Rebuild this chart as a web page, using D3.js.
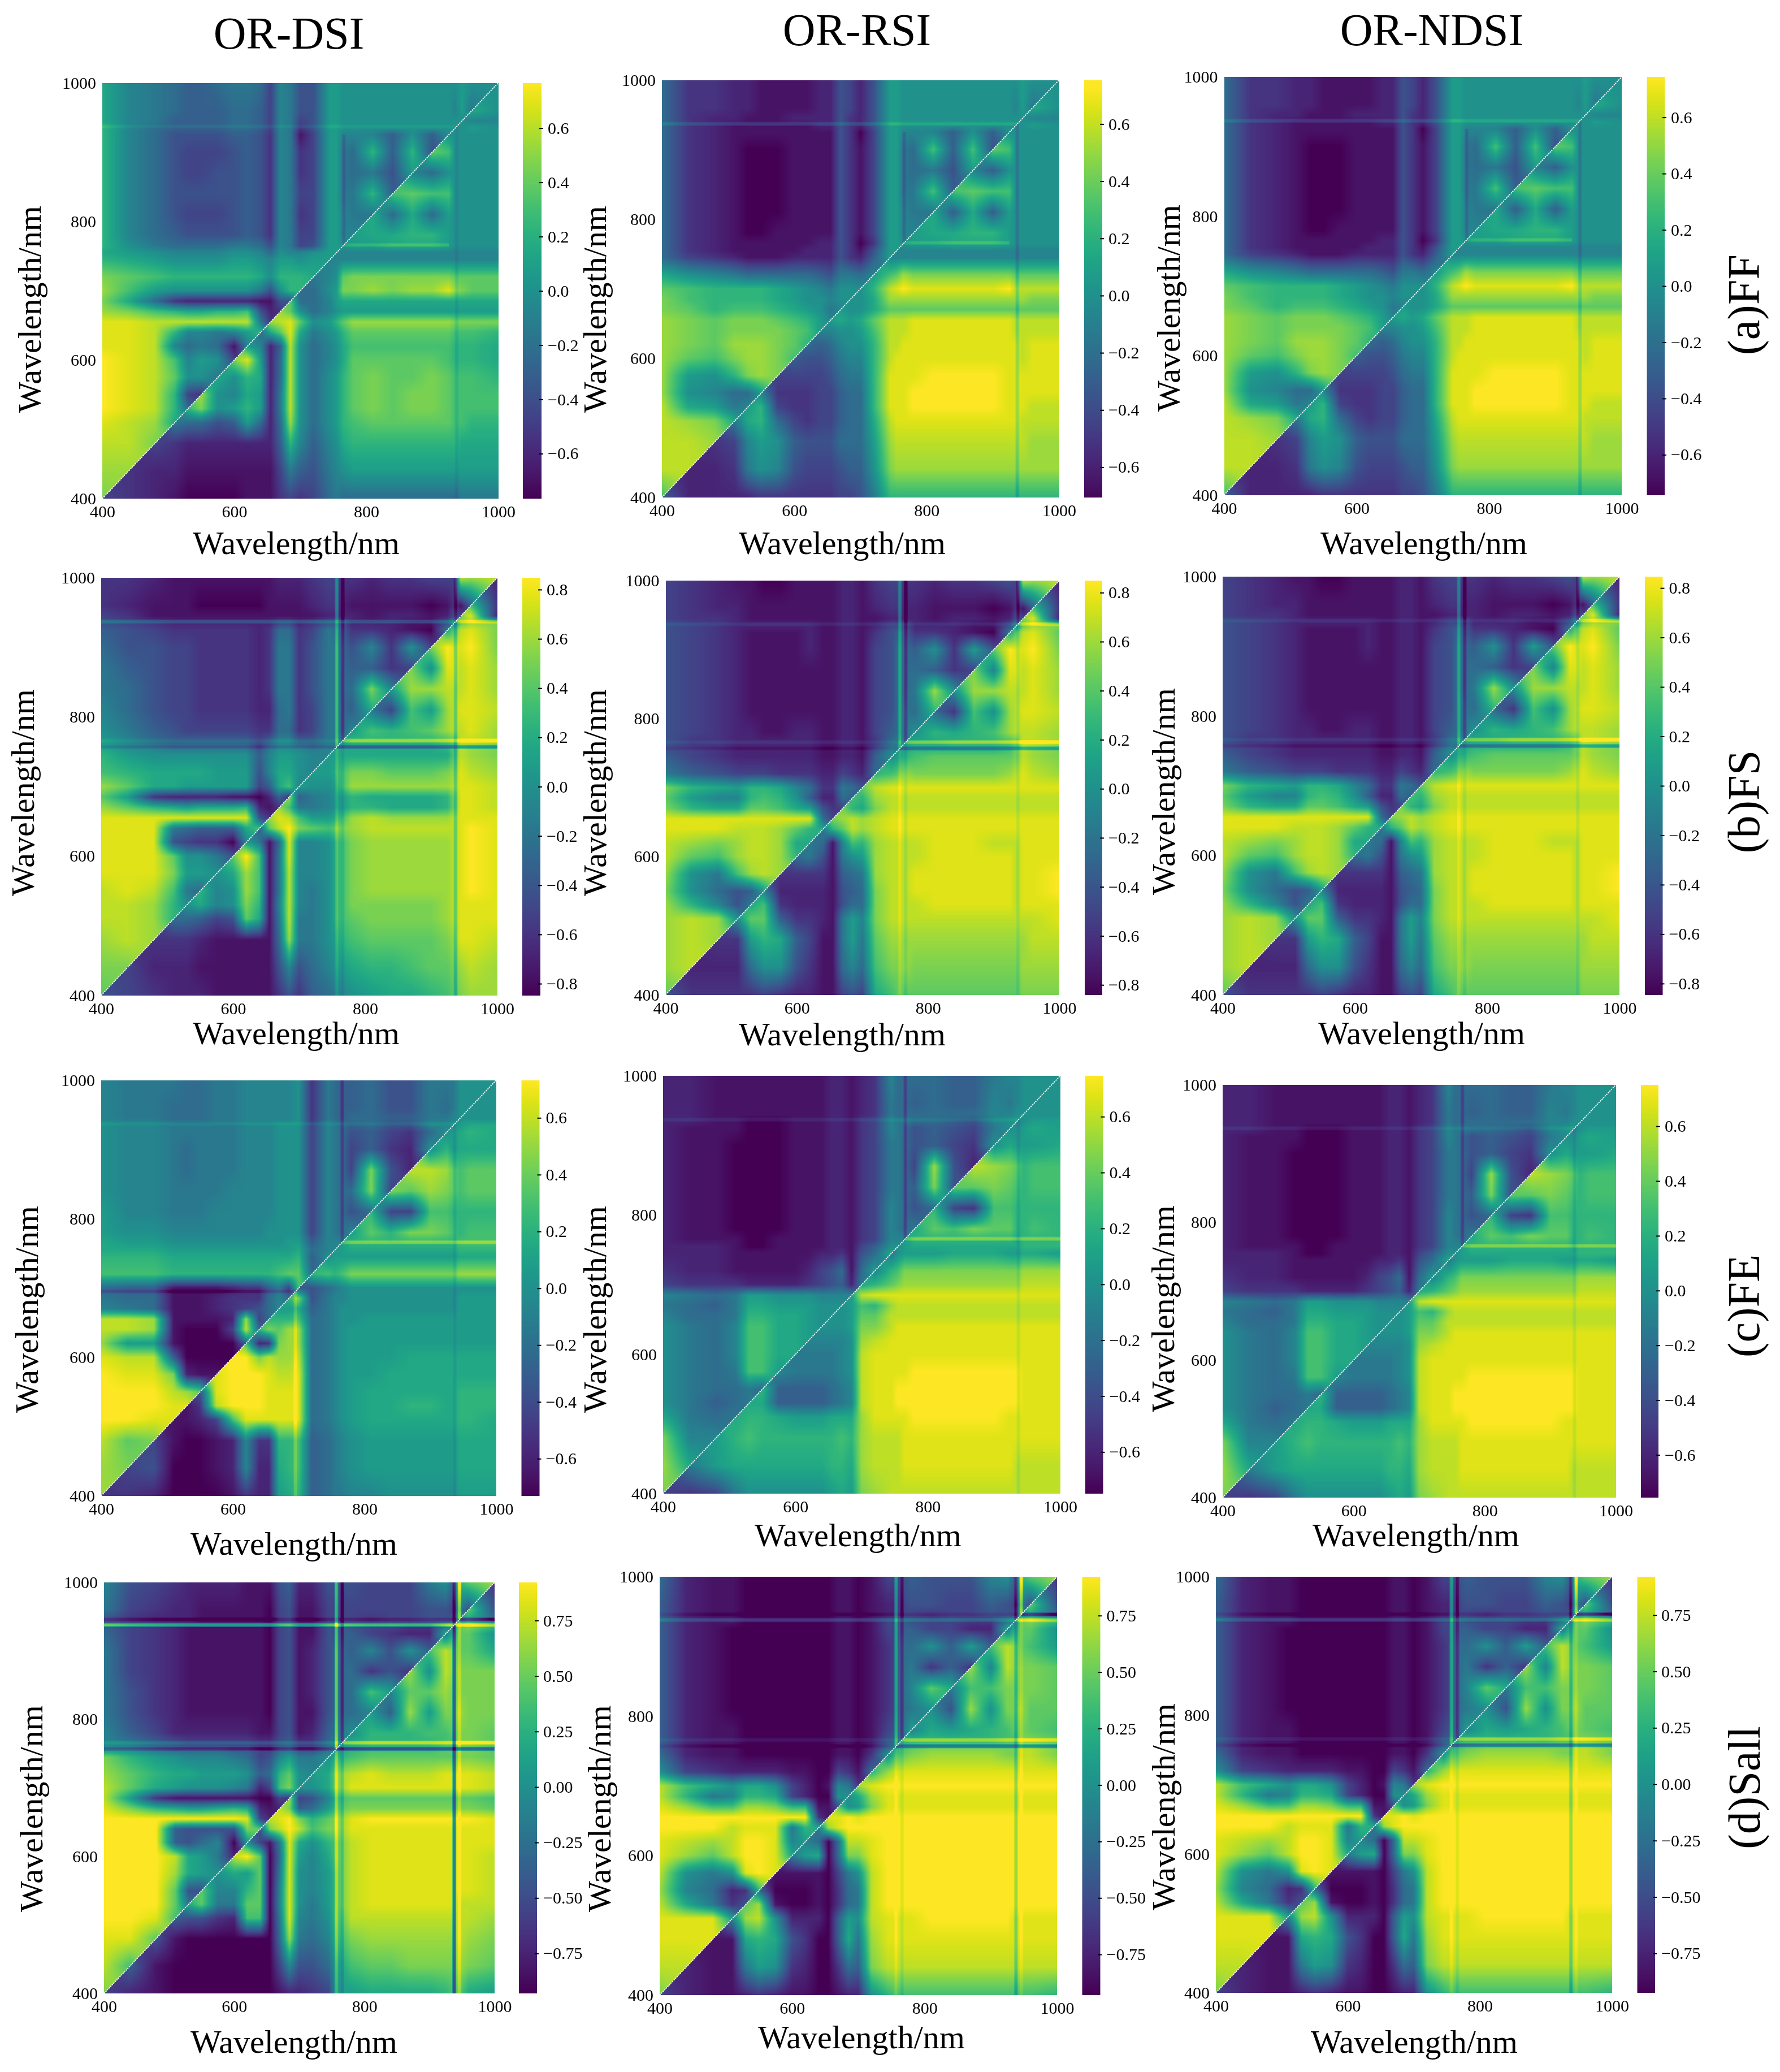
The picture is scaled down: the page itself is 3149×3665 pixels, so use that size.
<!DOCTYPE html>
<html><head><meta charset="utf-8">
<script src="https://cdn.jsdelivr.net/npm/d3@7/dist/d3.min.js"></script>
<style>
html,body{margin:0;padding:0;background:#fff}
#wrap{position:relative;width:3149px;height:3665px;overflow:hidden}
canvas,svg{position:absolute;left:0;top:0}
text{font-family:"Liberation Serif","Times New Roman",serif;fill:#000}
</style></head><body><div id="wrap"><canvas id="c" width="3149" height="3665"></canvas><svg id="s" width="3149" height="3665"></svg></div>
<script>
const waves=[400,440,480,510,530,550,575,600,620,640,655,670,685,700,720,745,755,765,780,810,840,870,900,925,935,945,960,1000];
const axisTicks=[400,600,800,1000];
const rowNames=["(a)FF","(b)FS","(c)FE","(d)Sall"];
const colNames=["OR-DSI","OR-RSI","OR-NDSI"];
const ticksFFE=[-0.6,-0.4,-0.2,0,0.2,0.4,0.6];
const ticksFS=[-0.8,-0.6,-0.4,-0.2,0,0.2,0.4,0.6,0.8];
const ticksSall=[-0.75,-0.5,-0.25,0,0.25,0.5,0.75];
// Triangles: each row is a y node, entries run x = y .. 1000, in tenths of the colour-bar half range.
const ffDsi=[
[-6,-7,-8,-9,-10,-10,-10,-10,-9,-9,-9,-7,-6,-7,-6,-3,-2,-3,-3,-3,-3,-3,-3,-3,-3,-2,-2,-2],
[-7,-8,-8,-9,-9,-9,-9,-9,-9,-9,-6,-2,-4,-5,-2,-1,0,1,1,1,1,1,1,1,1,1,1],
[-6,-7,-8,-8,-8,-8,-8,-8,-8,-4,3,-1,-4,-1,0,2,3,3,3,3,3,3,3,2,2,2],
[-2,-3,-3,-5,-4,1,-3,-8,-3,7,0,-3,0,1,3,4,5,5,5,5,5,4,4,3,3],
[3,6,0,1,3,1,-8,-2,8,0,-3,0,1,3,5,6,5,6,6,5,4,4,4,4],
[7,0,-1,2,1,-8,-2,8,0,-3,0,1,3,5,6,5,6,6,5,4,4,4,4],
[2,0,3,2,-8,-3,8,0,-3,0,1,3,5,6,5,5,6,5,4,4,4,3],
[6,9,1,-8,-3,8,0,-3,-1,0,2,5,5,5,5,5,4,3,3,3,2],
[1,-1,-8,-4,8,0,-3,-1,0,2,4,4,4,4,4,4,3,3,3,2],
[-3,2,5,9,2,-2,0,1,3,5,5,5,5,5,5,4,4,4,3],
[7,8,9,5,0,1,3,5,7,7,7,7,7,7,6,6,6,6],
[7,5,0,-3,-1,0,1,1,1,1,1,1,1,1,1,1,1],
[5,-3,-3,-1,1,2,2,2,2,2,2,2,2,2,2,2],
[-3,-3,0,1,6,6,7,6,7,7,9,7,6,5,5],
[-2,-1,0,5,6,6,6,6,6,6,5,5,5,5],
[-1,-1,-1,-1,-1,-1,-1,-1,-1,-1,-1,-1,-1],
[-1,-1,-1,-1,-1,-1,-1,-1,-1,-1,-1,-1],
[0,1,1,2,2,2,1,0,0,0,0],
[1,2,2,3,3,1,0,0,0,0],
[2,-3,2,-3,1,0,0,0,0],
[4,5,4,4,0,0,0,0],
[-1,-3,0,0,0,0,0],
[5,4,0,0,0,0],
[0,0,0,0,0],
[0,0,1,0],
[0,-1,-1],
[2,0],
[0]];
const ffRsi=[
[-4,-8,-8,-8,-8,-7,-7,-7,-7,-7,-7,-6,-6,-5,-2,3,3,3,3,3,3,3,3,3,3,3,3,3],
[-8,-8,-7,-2,0,-1,-5,-6,-6,-6,-5,-4,-4,0,6,7,7,7,7,7,7,7,7,7,7,7,7],
[-7,-6,-1,1,0,-4,-5,-5,-5,-3,-3,-3,1,7,8,8,8,8,8,8,8,8,8,8,7,7],
[-2,2,3,-3,-6,-7,-6,-6,-4,-3,-3,2,8,9,9,9,9,9,9,9,9,9,8,8,8],
[1,3,-6,-7,-7,-6,-6,-4,-3,-3,3,9,9,9,10,10,10,10,10,9,9,9,8,8],
[-1,-7,-7,-7,-6,-6,-4,-3,-3,3,9,9,9,10,10,10,10,10,9,9,9,9,9],
[-6,-6,-6,-6,-5,-3,-2,-2,3,9,9,9,9,10,10,10,10,9,9,9,9,9],
[-4,-5,-5,-4,-2,-1,-1,3,8,9,9,9,9,9,9,9,9,9,8,9,9],
[-3,-4,-3,-1,0,0,3,8,8,9,9,9,9,9,9,9,9,8,9,9],
[-1,-1,0,0,1,4,8,8,8,9,9,9,9,9,9,8,8,8,8],
[1,2,1,2,5,8,8,8,9,9,9,9,9,9,8,8,8,8],
[1,0,0,2,5,5,5,5,5,5,5,5,5,5,5,5,5],
[0,0,2,7,7,7,7,7,7,7,7,7,7,7,6,6],
[0,3,8,9,10,9,9,9,9,9,10,8,8,8,8],
[1,4,5,7,6,6,6,6,6,6,5,5,5,5],
[-1,-1,-1,-1,-1,-1,-1,-1,-1,-1,-1,-1,-1],
[-1,-1,-1,-1,-1,-1,-1,-1,-1,-1,-1,-1],
[0,1,1,2,2,2,1,0,0,0,0],
[1,2,2,3,3,1,0,0,0,0],
[2,-4,2,-4,1,0,0,0,0],
[4,5,4,4,0,0,0,0],
[-1,-4,0,0,0,0,0],
[5,4,0,0,0,0],
[0,0,0,0,0],
[0,0,1,0],
[0,-1,-1],
[2,0],
[0]];
const fsDsi=[
[-5,-6,-7,-8,-8,-8,-9,-9,-9,-9,-9,-7,-5,-7,-4,-3,-2,-1,0,1,2,2,3,4,5,6,7,7],
[-6,-8,-8,-8,-9,-9,-9,-9,-9,-9,-5,-1,-5,-3,-1,0,1,2,3,3,4,5,5,6,7,8,7],
[-7,-7,-7,-8,-9,-9,-9,-9,-9,-3,7,-2,-2,0,1,3,4,5,5,5,5,6,7,9,9,8],
[-3,-3,-4,-6,-5,5,2,-9,-2,8,-2,-2,0,2,4,5,6,6,6,6,7,8,9,9,9],
[0,2,-1,0,6,3,-9,-1,8,-1,-2,0,2,4,6,6,6,6,6,7,8,9,9,9],
[3,-1,0,7,4,-9,-2,8,-1,-2,0,2,4,6,7,7,7,7,7,8,9,10,9],
[0,2,7,4,-9,-2,8,-1,-1,0,2,4,6,7,7,7,7,7,8,9,10,9],
[5,10,4,-9,-2,9,-1,-1,0,2,4,6,7,7,7,7,7,8,9,10,9],
[1,-2,-9,-3,9,-1,-1,0,2,4,6,7,7,7,7,7,8,9,10,9],
[-4,5,8,10,6,5,4,5,6,7,8,8,8,8,8,8,9,10,9],
[7,9,8,4,1,1,2,4,7,8,7,7,7,7,8,9,9,9],
[7,4,-2,-2,-1,0,1,3,3,2,2,2,3,6,9,9,8],
[7,-4,-2,-1,0,1,3,2,2,2,2,3,6,9,9,8],
[1,0,0,1,4,7,7,7,7,7,7,8,9,9,8],
[1,1,2,4,6,6,5,5,5,6,7,9,8,7],
[1,1,2,2,2,2,2,2,2,5,8,7,6],
[1,2,2,2,2,2,2,3,5,8,7,6],
[1,3,3,3,3,3,4,5,8,8,7],
[1,4,3,4,5,7,8,8,9,7],
[-2,-6,4,1,7,8,9,9,8],
[1,7,7,8,8,8,9,7],
[6,0,9,9,8,9,7],
[6,10,9,9,10,6],
[2,5,8,9,6],
[0,5,7,6],
[6,9,-8],
[4,-7],
[-8]];
const fsRsi=[
[-5,-7,-7,-7,-7,-6,-7,-8,-8,-9,-9,-6,-5,-6,2,4,5,5,5,5,5,5,5,5,5,6,6,6],
[-8,-8,-8,-3,0,0,-5,-7,-9,-9,-3,-1,-3,4,6,6,7,6,6,6,6,6,6,6,7,7,7],
[-7,-7,1,3,2,-4,-6,-9,-9,-2,1,-2,5,7,7,7,7,7,7,7,7,7,7,7,8,8],
[0,5,5,-4,-7,-7,-8,-9,-2,1,-1,6,8,8,8,8,8,8,8,8,8,8,8,8,9],
[2,4,-7,-8,-8,-8,-9,-5,-3,-3,6,8,8,8,8,9,9,9,9,9,8,9,9,9],
[-1,-8,-8,-8,-8,-9,-5,-4,-3,6,8,8,8,9,9,9,9,9,9,8,9,9,10],
[-7,-7,-7,-7,-9,-4,-3,-2,7,8,8,8,9,9,9,9,9,9,8,9,9,10],
[-3,-2,-5,-9,-2,0,1,7,8,8,8,8,9,9,9,9,9,8,9,9,9],
[-2,-3,-9,-1,4,3,7,8,8,8,8,9,9,9,8,8,8,9,9,9],
[-2,3,5,8,7,8,9,9,9,9,9,9,9,9,9,9,9,9,9],
[6,7,8,7,8,9,9,9,9,9,9,9,9,9,9,9,9,9],
[6,3,2,6,8,8,8,8,8,8,8,8,8,8,8,8,8],
[4,3,7,8,8,8,8,8,8,8,8,8,8,8,8,8],
[5,8,9,9,9,9,9,9,9,9,9,9,9,9,9],
[3,4,5,7,6,6,6,6,6,7,8,9,8,7],
[0,1,3,4,5,5,5,5,5,6,8,7,6],
[1,2,3,3,3,3,3,4,6,8,7,6],
[1,2,2,3,3,3,4,5,8,8,7],
[0,3,2,3,4,7,8,8,8,7],
[-3,-7,4,0,7,8,9,9,8],
[0,7,7,8,8,8,9,7],
[6,-1,9,9,8,9,7],
[5,10,9,9,10,6],
[2,5,8,9,5],
[0,5,7,6],
[6,9,-8],
[4,-7],
[-8]];
const feDsi=[
[-7,-7,-8,-10,-10,-10,-10,-9,-7,-8,-8,1,2,3,-4,-3,-2,-2,-1,-1,0,0,0,0,0,1,1,1],
[-6,-5,-10,-10,-10,-9,-8,-1,-8,-8,2,3,4,-4,-3,-2,-1,0,1,1,1,1,1,1,2,2,2],
[-6,-9,-10,-10,-9,-8,-1,-7,-7,3,3,4,-4,-3,-2,-1,0,1,1,1,1,1,1,2,2,2],
[-9,-9,-8,-6,4,9,9,9,9,9,9,-3,-2,-1,0,1,2,2,2,2,2,2,3,3,2],
[-9,-7,8,10,10,10,9,9,9,9,-3,-2,-1,0,1,2,2,3,3,2,2,3,3,3],
[-5,9,10,10,10,9,9,9,9,-3,-2,-1,0,1,2,2,2,2,2,2,3,3,3],
[9,10,10,10,9,8,8,9,-3,-2,-1,0,1,1,2,2,2,2,2,2,2,2],
[10,10,6,8,7,7,8,-3,-2,-1,0,1,1,1,2,2,2,2,2,2,2],
[4,-8,-7,6,7,7,-3,-2,-1,0,1,1,1,1,1,1,1,1,1,1],
[3,6,5,7,7,-3,-2,-1,0,1,1,1,1,1,1,1,1,1,1],
[3,3,3,4,-3,-2,-1,0,0,1,1,1,1,1,1,1,1,1],
[1,1,2,-4,-2,-1,0,0,0,0,0,0,0,0,1,1,1],
[3,6,-5,-2,-1,-1,0,0,0,0,0,0,0,1,1,1],
[-4,-5,-3,-2,-1,0,0,0,0,0,0,0,0,0,0],
[3,4,3,4,6,6,6,6,6,6,6,7,7,7],
[0,1,1,1,1,1,1,1,1,1,2,2,2],
[1,1,2,2,2,2,2,2,2,3,3,3],
[1,3,3,3,3,3,3,3,4,4,4],
[1,5,3,6,6,5,4,3,4,4],
[3,-6,-6,4,4,3,3,3,3],
[6,5,7,6,5,4,5,5],
[8,8,7,5,4,5,5],
[0,3,1,2,2,2],
[0,1,2,3,2],
[0,1,2,2],
[0,0,0],
[0,0],
[0]];
const feRsi=[
[-6,-7,-6,-2,0,0,0,0,0,0,1,2,1,6,7,8,8,8,8,8,8,8,8,8,8,8,8,8],
[-2,1,2,2,2,2,2,2,2,3,3,2,7,8,8,8,9,9,9,9,9,9,9,8,8,8,8],
[1,3,4,3,3,3,3,3,3,4,3,7,8,8,8,9,9,9,9,9,9,9,9,9,9,9],
[2,3,3,2,1,1,1,2,2,2,7,9,9,9,9,10,10,10,10,10,9,9,9,9,9],
[2,2,-4,-4,-4,-4,-3,-2,-1,8,9,9,10,10,10,10,10,10,10,10,10,9,9,9],
[3,-4,-4,-4,-4,-3,-2,-1,8,9,9,10,10,10,10,10,10,10,10,10,9,9,9],
[-1,-2,-2,-2,-2,-1,0,8,9,9,9,9,10,10,10,10,10,10,10,9,9,9],
[-2,-2,-2,-2,-1,0,8,9,9,9,9,9,9,9,9,9,9,9,9,9,9],
[-1,-1,-1,-1,0,7,8,9,9,9,9,9,9,9,9,9,9,9,9,9],
[0,0,0,1,6,6,8,9,9,9,9,9,9,9,9,9,9,9,9],
[0,0,1,5,5,8,8,8,8,8,8,8,8,8,8,8,8,8],
[0,1,4,3,7,8,8,8,8,8,8,8,8,8,8,8,8],
[1,8,9,9,9,9,9,9,9,9,9,9,9,9,9,9],
[2,3,5,6,7,7,7,7,7,7,7,7,8,8,8],
[-1,3,4,6,6,6,6,6,6,6,6,7,7,7],
[-2,0,1,1,1,2,2,2,1,1,2,2,1],
[0,1,2,2,2,2,2,2,2,3,3,3],
[1,3,3,3,3,3,3,2,3,3,3],
[2,5,4,6,5,5,3,3,4,3],
[3,-6,-7,4,4,3,3,3,3],
[5,5,6,5,4,3,4,4],
[8,7,6,5,3,4,4],
[0,2,1,1,1,2],
[0,0,1,2,1],
[-1,0,1,1],
[0,0,0],
[0,0],
[0]];
const sallDsi=[
[-6,-8,-9,-10,-10,-10,-10,-10,-10,-10,-10,-9,-8,-8,-7,-6,-1,1,1,2,2,2,2,3,4,5,2,1],
[-4,-9,-10,-10,-10,-10,-10,-10,-10,-10,-6,-1,-5,-5,-3,0,2,4,5,5,6,6,6,6,7,6,5],
[-5,-9,-10,-10,-10,-10,-10,-10,-10,-3,7,-2,-3,-1,2,4,6,7,7,7,7,7,7,8,7,6],
[-4,-5,-5,-7,-8,4,4,-10,-2,9,-1,-2,0,3,5,8,8,8,8,8,8,8,8,8,7],
[2,5,-2,-2,5,5,-10,-1,9,0,-2,1,3,6,8,9,9,9,9,9,9,8,8,8],
[5,-1,-1,3,5,-10,-1,9,0,-1,1,3,6,8,9,9,9,9,9,9,9,9,8],
[0,2,1,5,-10,-2,9,0,-1,1,3,6,8,9,9,9,9,9,9,9,9,8],
[8,10,5,-10,-3,9,1,-1,2,4,6,8,9,9,9,9,9,9,9,9,8],
[0,-6,-9,-2,9,2,0,3,4,6,8,9,9,9,9,9,9,9,9,9],
[-5,6,8,10,8,4,6,6,7,9,9,9,9,9,9,9,9,9,9],
[8,9,10,6,3,5,6,7,9,10,10,10,10,10,10,10,10,9],
[8,6,-4,-3,1,3,5,6,6,6,6,6,6,6,6,6,5],
[7,-6,-5,-1,2,4,5,5,5,5,5,5,5,5,5,4],
[0,0,2,5,7,9,9,9,9,9,9,9,9,9,8],
[1,2,5,7,8,9,8,8,8,9,9,9,9,8],
[0,2,3,4,5,5,5,5,5,5,6,6,5],
[0,2,3,4,4,4,4,5,5,6,6,5],
[1,2,3,3,3,3,4,4,6,6,5],
[0,3,3,3,4,4,5,6,6,5],
[1,-4,7,1,6,6,7,6,6],
[-1,5,5,7,6,6,6,6],
[7,0,8,7,6,6,6],
[4,8,7,5,5,2],
[-2,2,5,5,0],
[0,5,6,3],
[0,2,-3],
[5,-5],
[-7]];
const sallRsi=[
[-6,-8,-9,-9,-8,-7,-8,-9,-9,-10,-10,-9,-8,-8,0,3,4,4,4,4,4,4,4,4,4,4,4,3],
[-8,-9,-9,-2,1,0,-7,-8,-10,-10,-7,-3,-4,6,8,8,8,8,8,8,8,8,8,8,8,8,8],
[-9,-9,2,3,2,-5,-7,-10,-10,-4,2,-2,7,9,9,9,9,9,9,9,9,9,9,9,9,9],
[-1,7,8,0,-8,-8,-8,-10,-4,1,0,8,9,9,9,9,10,10,10,10,10,9,9,9,9],
[5,7,-9,-10,-10,-9,-10,-7,-3,-2,8,10,10,10,10,10,10,10,10,10,10,10,10,10],
[-3,-10,-10,-10,-9,-10,-7,-3,-2,8,10,10,10,10,10,10,10,10,10,10,10,10,10],
[-9,-9,-9,-9,-10,-6,-2,0,8,10,10,10,10,10,10,10,10,10,10,10,10,10],
[-2,1,2,-10,-3,6,6,9,10,10,10,10,10,10,10,10,10,10,10,10,10],
[-1,-3,-10,-3,8,8,9,10,10,10,10,10,10,10,10,10,10,10,10,10],
[-2,7,9,10,10,10,10,10,10,10,10,10,10,10,10,10,10,10,10],
[9,9,10,9,10,10,10,10,10,10,10,10,10,10,10,10,10,10],
[5,0,1,6,9,9,9,9,9,9,9,9,9,9,9,9,9],
[0,2,7,9,9,9,9,9,9,9,9,9,9,9,9,9],
[7,9,10,10,10,10,10,10,10,10,10,10,10,10,10],
[3,7,8,9,9,9,9,9,9,9,9,9,9,9],
[0,3,5,6,7,7,7,7,6,6,8,8,6],
[1,4,5,6,6,6,6,6,6,8,8,6],
[2,3,3,3,3,3,4,4,6,6,5],
[-1,2,1,2,3,4,5,6,5,4],
[0,-5,7,0,6,6,7,5,5],
[-2,4,4,6,6,6,6,5],
[7,-1,8,7,6,6,5],
[4,8,7,5,4,1],
[-2,2,5,5,0],
[0,5,6,3],
[0,2,-3],
[5,-5],
[-7]];
const ffNdsi=ffRsi, fsNdsi=fsRsi, feNdsi=feRsi, sallNdsi=sallRsi;
// Thin spectral lines: [wavelength, change on the column below it, change on the row right of it, optional row end].
const ffDsiLines=[[937,-1,0],[766,0,2,925]];
const ffRsiLines=[[937,-2,0],[766,0,2,925]];
const fsDsiLines=[[757,2,-6],[766,-1,4],[937,-3,3]];
const fsRsiLines=[[757,1,-5],[766,-1,4],[937,-1,3]];
const feDsiLines=[[937,-1,0],[766,0,3],[695,2,0]];
const feRsiLines=[[937,-1,0],[766,0,3]];
const sallDsiLines=[[757,4,-9],[766,-2,5],[938,-10,6],[946,2,-8]];
const sallRsiLines=[[757,1,-7],[766,-1,4],[938,-3,5],[946,1,-8]];

// Layout of each panel in page pixels (plot box, colour bar, labels).
const panels=[
 {g:ffDsi,l:ffDsiLines,dom:[-.766,.767],half:.766,tk:ticksFFE,f:".1f",x:[181,881.5],y:[146.5,882],b:[925,958],xl:[524,960],yl:[52,547]},
 {g:ffRsi,l:ffRsiLines,dom:[-.706,.754],half:.73,tk:ticksFFE,f:".1f",x:[1171,1873.5],y:[141.5,880],b:[1918,1950],xl:[1490,960],yl:[1052,547]},
 {g:ffNdsi,l:ffRsiLines,dom:[-.743,.744],half:.744,tk:ticksFFE,f:".1f",x:[2165.5,2869],y:[136,875.5],b:[2913.5,2945],xl:[2519,960],yl:[2067,545]},
 {g:fsDsi,l:fsDsiLines,dom:[-.847,.848],half:.848,tk:ticksFS,f:".1f",x:[179,879.5],y:[1022,1760.5],b:[924,956],xl:[524,1827],yl:[40,1402]},
 {g:fsRsi,l:fsRsiLines,dom:[-.84,.849],half:.845,tk:ticksFS,f:".1f",x:[1177.5,1874],y:[1027,1759.5],b:[1919,1950],xl:[1490,1829],yl:[1052,1402]},
 {g:fsNdsi,l:fsRsiLines,dom:[-.845,.846],half:.846,tk:ticksFS,f:".1f",x:[2163,2865],y:[1020,1759.5],b:[2910,2941.5],xl:[2515,1827],yl:[2058,1400]},
 {g:feDsi,l:feDsiLines,dom:[-.731,.733],half:.733,tk:ticksFFE,f:".1f",x:[179,878],y:[1910.5,2646],b:[922.5,954.5],xl:[520,2730],yl:[47,2316]},
 {g:feRsi,l:feRsiLines,dom:[-.749,.746],half:.747,tk:ticksFFE,f:".1f",x:[1173,1875.5],y:[1903,2642],b:[1920,1951.5],xl:[1518,2715],yl:[1052,2316]},
 {g:feNdsi,l:feRsiLines,dom:[-.756,.751],half:.753,tk:ticksFFE,f:".1f",x:[2163,2858.5],y:[1919,2649],b:[2903,2934],xl:[2505,2715],yl:[2057,2315]},
 {g:sallDsi,l:sallDsiLines,dom:[-.93,.922],half:.925,tk:ticksSall,f:".2f",x:[184,875],y:[2799,3526],b:[918,950],xl:[520,3611],yl:[55,3199]},
 {g:sallRsi,l:sallRsiLines,dom:[-.93,.922],half:.925,tk:ticksSall,f:".2f",x:[1167,1870],y:[2789,3529],b:[1914.5,1946.5],xl:[1524,3603],yl:[1060,3199]},
 {g:sallNdsi,l:sallRsiLines,dom:[-.925,.92],half:.925,tk:ticksSall,f:".2f",x:[2151,2851.5],y:[2789,3525],b:[2896.5,2928],xl:[2502,3611],yl:[2058,3196]}
];
const titlePos=[[511,86],[1516,80],[2533,80]];
const rowLabelPos=[[3085,539],[3085,1418],[3085,2310],[3086,3162]];

const n=waves.length;
const bad=[];
panels.forEach((p,i)=>{p.g.forEach((r,k)=>{if(r.length!==n-k)bad.push("p"+i+" r"+k+" len "+r.length+" want "+(n-k));});if(p.g.length!==n)bad.push("rows "+i);});
if(bad.length)throw new Error(bad.join("; "));

const ctx=document.getElementById("c").getContext("2d");
ctx.fillStyle="#fff";ctx.fillRect(0,0,3149,3665);
const LUT=d3.range(1024).map(i=>{const c=d3.rgb(d3.interpolateViridis(i/1023));return [c.r,c.g,c.b];});
const nodeIndex=d3.scaleLinear().domain(waves).range(d3.range(n));

function cell(g,i,j){return j>=i?g[i][j-i]:g[j][i-j];}
function lineWeight(d){return d<1.5?1:d<3.5?(3.5-d)/2:0;}
function tri(p,ax,ay,wx,wy){ // wx>=wy: fractional node indexes ax,ay and wavelengths wx,wy
  const g=p.g;
  const j0=Math.min(Math.floor(ax),n-2),i0=Math.min(Math.floor(ay),n-2),fx=ax-j0,fy=ay-i0;
  let v=(cell(g,i0,j0)*(1-fx)+cell(g,i0,j0+1)*fx)*(1-fy)+(cell(g,i0+1,j0)*(1-fx)+cell(g,i0+1,j0+1)*fx)*fy;
  for(const [w,c,r,end] of p.l){
    if(c&&wy<w)v+=c*lineWeight(Math.abs(wx-w));
    if(r&&wx>w&&(!end||wx<end))v+=r*lineWeight(Math.abs(wy-w));
  }
  return v;
}
const svg=d3.select("#s");
panels.forEach(p=>{
  const xS=d3.scaleLinear([400,1000],p.x), yS=d3.scaleLinear([400,1000],[p.y[1],p.y[0]]);
  const x0=Math.round(p.x[0]),y0=Math.round(p.y[0]),W=Math.round(p.x[1])-x0,H=Math.round(p.y[1])-y0;
  const img=ctx.createImageData(W,H);
  const colX=new Float64Array(W),colW=new Float64Array(W),rowY=new Float64Array(H),rowW=new Float64Array(H);
  for(let a=0;a<W;a++){colW[a]=xS.invert(x0+a+.5);colX[a]=nodeIndex(Math.max(400,Math.min(1000,colW[a])));}
  for(let b=0;b<H;b++){rowW[b]=yS.invert(y0+b+.5);rowY[b]=nodeIndex(Math.max(400,Math.min(1000,rowW[b])));}
  for(let b=0;b<H;b++)for(let a=0;a<W;a++){
    const v=colW[a]>=rowW[b]?tri(p,colX[a],rowY[b],colW[a],rowW[b]):-tri(p,rowY[b],colX[a],rowW[b],colW[a]);
    const c=LUT[Math.max(0,Math.min(1023,Math.round((v+10)/20*1023)))],k=(b*W+a)*4;
    img.data[k]=c[0];img.data[k+1]=c[1];img.data[k+2]=c[2];img.data[k+3]=255;
  }
  ctx.putImageData(img,x0,y0);
  // colour bar
  const bS=d3.scaleLinear(p.dom,[p.y[1],p.y[0]]);
  for(let yy=Math.round(p.y[0]);yy<Math.round(p.y[1]);yy++){
    const t=(bS.invert(yy+.5)+p.half)/(2*p.half);
    const c=LUT[Math.max(0,Math.min(1023,Math.round(t*1023)))];
    ctx.fillStyle=`rgb(${c[0]},${c[1]},${c[2]})`;
    ctx.fillRect(p.b[0],yy,p.b[1]-p.b[0],1);
  }
  const g=svg.append("g");
  const ax=g.append("g").attr("transform",`translate(0,${p.y[1]})`).call(d3.axisBottom(xS).tickValues(axisTicks).tickSize(0).tickPadding(12).tickFormat(d3.format("d")));
  const ay=g.append("g").attr("transform",`translate(${p.x[0]},0)`).call(d3.axisLeft(yS).tickValues(axisTicks).tickSize(0).tickPadding(11).tickFormat(d3.format("d")));
  const ac=g.append("g").attr("transform",`translate(${p.b[1]},0)`).call(d3.axisRight(bS).tickValues(p.tk).tickSize(6).tickPadding(6).tickFormat(d3.format(p.f)));
  [ax,ay,ac].forEach(a=>{a.select(".domain").remove();a.selectAll("text").attr("font-size",30).style("font-family",'"Liberation Serif",serif').attr("fill","#000");a.attr("font-family",null);});
  ac.selectAll("line").attr("x1",-4).attr("x2",3).attr("stroke","#000").attr("stroke-width",2);
  ac.selectAll("text").attr("x",11);
  g.append("path").attr("d",d3.line().x(d=>xS(d)).y(d=>yS(d))([400,1000])).attr("stroke","#fff").attr("stroke-width",1.8).attr("stroke-dasharray","2.5 1.5").attr("fill","none");
  g.append("text").attr("x",p.xl[0]).attr("y",p.xl[1]).attr("text-anchor","middle").attr("dominant-baseline","central").attr("font-size",58).text("Wavelength/nm");
  g.append("text").attr("transform",`translate(${p.yl[0]},${p.yl[1]}) rotate(-90)`).attr("text-anchor","middle").attr("dominant-baseline","central").attr("font-size",58).text("Wavelength/nm");
});
colNames.forEach((t,i)=>svg.append("text").attr("x",titlePos[i][0]).attr("y",titlePos[i][1]).attr("text-anchor","middle").attr("font-size",80).text(t));
rowNames.forEach((t,i)=>svg.append("text").attr("transform",`translate(${rowLabelPos[i][0]},${rowLabelPos[i][1]}) rotate(-90)`).attr("text-anchor","middle").attr("dominant-baseline","central").attr("font-size",80).text(t));
</script></body></html>
